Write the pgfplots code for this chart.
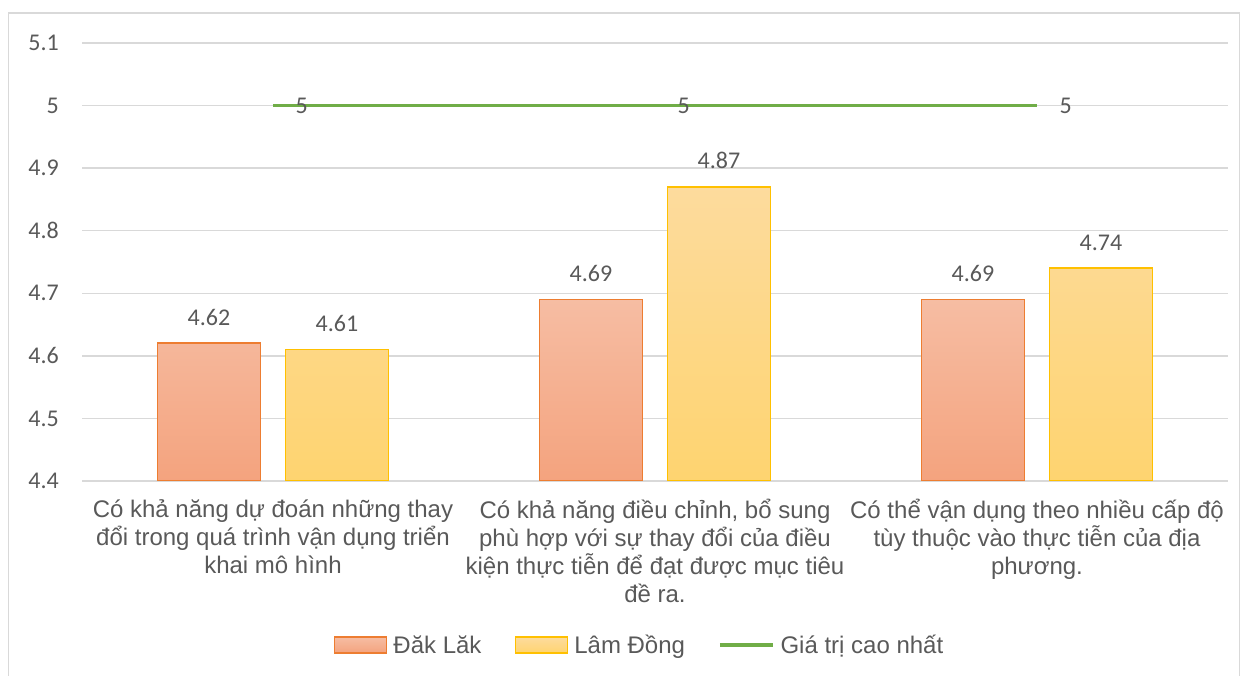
\documentclass[border=0pt]{standalone}
\usepackage{fontspec}
\setmainfont{Carlito}
\newfontfamily\arial{Liberation Sans}
\usepackage{pgfplots}
\pgfplotsset{compat=1.18}
\definecolor{txt}{HTML}{595959}
\definecolor{gridc}{HTML}{D9D9D9}
\definecolor{orEdge}{HTML}{ED7D31}
\definecolor{orTop}{HTML}{F6BDA3}
\definecolor{orBot}{HTML}{F4A37E}
\definecolor{yeEdge}{HTML}{FFC000}
\definecolor{yeTop}{HTML}{FDDB9D}
\definecolor{yeBot}{HTML}{FED470}
\definecolor{maxGreen}{HTML}{70AD47}
\newcommand{\bigfont}{\fontsize{24}{28}\selectfont}
\pgfplotsset{
  box legend img/.style={legend image code/.code={\draw[##1] (0pt,-8pt) rectangle (52pt,8pt);}},
  line legend img/.style={legend image code/.code={\draw[##1] (0pt,0pt) -- (53pt,0pt);}},
  value label/.style={nodes near coords, point meta=rawy,
    nodes near coords style={font=\bigfont, text=txt, inner sep=0pt}},
}
\begin{document}
\begin{tikzpicture}[x=1pt,y=1pt]
\path[use as bounding box] (0,0) rectangle (1246,676);
\draw[gridc, line width=1.5pt] (8.5,-2) -- (8.5,663) -- (1239.5,663) -- (1239.5,-2);
\begin{axis}[
  at={(82pt,195pt)}, anchor=south west,
  scale only axis, width=1146pt, height=438pt,
  /pgf/number format/assume math mode=true,
  xmin=-0.5, xmax=2.5,
  y coord trafo/.code={\pgfmathparse{#1-4.4}},
  y coord inv trafo/.code={\pgfmathparse{#1+4.4}},
  ymin=4.4, ymax=5.1,
  ytick={4.4,4.5,4.6,4.7,4.8,4.9,5,5.1},
  yticklabels={4.4,4.5,4.6,4.7,4.8,4.9,5,5.1},
  ymajorgrids, grid style={gridc, line width=1.5pt},
  axis line style={draw=none}, tick style={draw=none},
  yticklabel style={font=\bigfont, text=txt, inner sep=0pt, anchor=east, xshift=-23pt},
  xtick={0,1,2},
  xticklabels={
    {Có khả năng dự đoán những thay\\đổi trong quá trình vận dụng triển\\khai mô hình},
    {Có khả năng điều chỉnh, bổ sung\\phù hợp với sự thay đổi của điều\\kiện thực tiễn để đạt được mục tiêu\\đề ra.},
    {Có thể vận dụng theo nhiều cấp độ\\tùy thuộc vào thực tiễn của địa\\phương.}},
  xticklabel style={font=\arial\bigfont, text=txt, align=center, inner sep=0pt, anchor=north, yshift=-18pt},
  legend columns=3,
  legend style={at={(0.4856,-0.3744)}, anchor=center, draw=none, fill=none,
    font=\arial\bigfont, text=txt, nodes={inner sep=0pt},
    /tikz/every odd column/.append style={column sep=6pt},
    /tikz/every even column/.append style={column sep=33pt}},
]
% Đăk Lăk
\addplot[ybar, bar width=103pt, bar shift=-64pt, draw=orEdge, line width=1.8pt,
  top color=orTop, bottom color=orBot, box legend img, value label,
  nodes near coords style={anchor=south, xshift=-64pt, yshift=17pt}]
  coordinates {(0,4.62) (1,4.69) (2,4.69)};
% Lâm Đồng
\addplot[ybar, bar width=103pt, bar shift=64pt, draw=yeEdge, line width=1.8pt,
  top color=yeTop, bottom color=yeBot, box legend img, value label,
  nodes near coords style={anchor=south, xshift=64pt, yshift=17pt}]
  coordinates {(0,4.61) (1,4.87) (2,4.74)};
% highest possible score
\addplot[maxGreen, line width=3.5pt, mark=none, line legend img, value label,
  nodes near coords style={anchor=west, xshift=21pt}]
  coordinates {(0,5) (1,5) (2,5)};
\legend{Đăk Lăk, Lâm Đồng, Giá trị cao nhất}
\end{axis}
\end{tikzpicture}
\end{document}
